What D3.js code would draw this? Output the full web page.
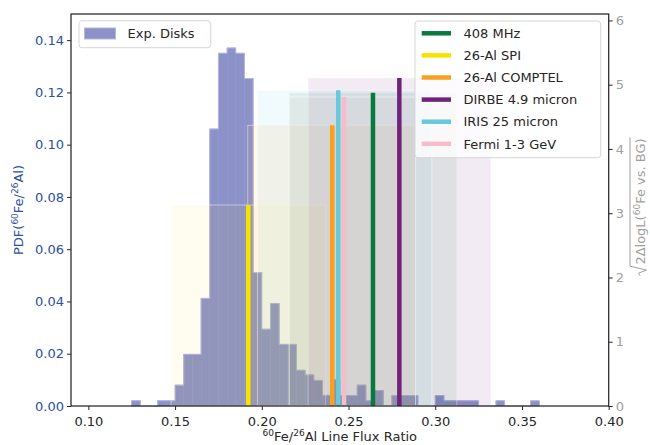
<!DOCTYPE html>
<html>
<head>
<meta charset="utf-8">
<script src="https://cdn.jsdelivr.net/npm/d3@7"></script>
<style>
  html, body { margin: 0; padding: 0; background: #fff; }
  svg { display: block; font-family: "DejaVu Sans", sans-serif; }
</style>
</head>
<body>
<svg id="chart" width="650" height="445"></svg>
<script>
// ---------------- DATA ----------------
const binLeft = [0.125,0.130,0.135,0.140,0.145,0.150,0.155,0.160,0.165,0.170,0.175,0.180,0.185,0.190,0.195,0.200,0.205,0.210,0.215,0.220,0.225,0.230,0.235,0.240,0.245,0.250,0.255,0.260,0.265,0.270,0.275,0.280,0.285,0.290,0.295,0.300,0.305,0.310,0.315,0.320,0.325,0.330,0.335,0.340,0.345,0.350,0.355];
const binPdf  = [0.002,0,0,0.002,0.002,0.008,0.0198,0.0198,0.0412,0.106,0.135,0.137,0.135,0.1253,0.051,0.0294,0.0392,0.0236,0.0236,0.0137,0.0119,0.0098,0.0041,0.0100,0.004,0.004,0.008,0.002,0.0059,0,0.004,0.004,0.004,0,0,0.004,0.002,0.002,0.002,0.002,0,0,0.002,0,0,0,0.002];
const binWidth = 0.005;

const tracerNames = ["408 MHz","26-Al SPI","26-Al COMPTEL","DIRBE 4.9 micron","IRIS 25 micron","Fermi 1-3 GeV"];
const ratioBest   = [0.2641, 0.1922, 0.2406, 0.2793, 0.2441, 0.2474];
const ratioLow    = [0.2158, 0.1477, 0.1919, 0.2267, 0.1975, 0.2158];
const ratioHigh   = [0.3124, 0.2368, 0.2887, 0.3321, 0.2980, 0.2887];
const significance= [4.875, 3.128, 4.368, 5.104, 4.913, 4.808];

const xTicks = [0.10,0.15,0.20,0.25,0.30,0.35,0.40];
const yLeftTicks = [0,0.02,0.04,0.06,0.08,0.10,0.12,0.14];
const yRightTicks = [0,1,2,3,4,5,6];

// ---------------- STYLE ----------------
const tracerColors = ["#087a3d","#f6e400","#f7a11f","#6f2479","#67c9db","#f6bccb"];
const histColor = "#8c91c8";
const leftColor = "#2c4fa3";
const rightColor = "#a0a0a0";
const textColor = "#262626";

const svg = d3.select("#chart");
const L = 71, R = 608.7, T = 14, B = 406;

const x = d3.scaleLinear().domain([0.09, 0.40]).range([L, R]);
const yL = d3.scaleLinear().domain([0, 0.15]).range([B, T]);
const yR = d3.scaleLinear().domain([0, 6.1]).range([B, T]);

const plot = svg.append("g");

// histogram (step-filled)
const hist = binLeft.map((b,i)=>({x0:b, x1:b+binWidth, v:binPdf[i]})).filter(d=>d.v>0);
plot.selectAll("rect.hist").data(hist).join("rect")
  .attr("class","hist")
  .attr("x", d=>x(d.x0)).attr("width", d=>x(d.x1)-x(d.x0))
  .attr("y", d=>yL(d.v)).attr("height", d=>yL(0)-yL(d.v))
  .attr("fill", histColor).attr("stroke", histColor).attr("stroke-width", 0.5);
// light outline of the step histogram
const stepPts = [];
binLeft.forEach((b,i)=>{ stepPts.push([x(b), yL(binPdf[i])]); stepPts.push([x(b+binWidth), yL(binPdf[i])]); });
plot.append("path")
  .attr("d", d3.line()(stepPts))
  .attr("fill","none").attr("stroke","#b4b7de").attr("stroke-width",1);

// shaded ranges
const idx = d3.range(tracerNames.length);
plot.selectAll("rect.band").data(idx).join("rect")
  .attr("class","band")
  .attr("x", i=>x(ratioLow[i])).attr("width", i=>x(ratioHigh[i])-x(ratioLow[i]))
  .attr("y", i=>yR(significance[i])).attr("height", i=>yR(0)-yR(significance[i]))
  .attr("fill", i=>tracerColors[i]).attr("fill-opacity", i=> i===1 ? 0.06 : 0.09)
  .attr("stroke", "#ffffff").attr("stroke-opacity", 0.45).attr("stroke-width", 1);

// vertical lines
plot.selectAll("line.best").data(idx).join("line")
  .attr("class","best")
  .attr("x1", i=>x(ratioBest[i])).attr("x2", i=>x(ratioBest[i]))
  .attr("y1", yR(0)).attr("y2", i=>yR(significance[i]))
  .attr("stroke", i=>tracerColors[i]).attr("stroke-width", 4.5);

// axes
const xAxis = d3.axisBottom(x).tickValues(xTicks).tickFormat(d3.format(".2f")).tickSize(4).tickPadding(7);
const gx = svg.append("g").attr("transform", `translate(0,${B})`).call(xAxis);
gx.select(".domain").remove();
gx.selectAll("text").attr("fill", textColor).style("font-size","13px").style("font-family","DejaVu Sans");
gx.selectAll("line").attr("stroke", textColor);

const yAxisL = d3.axisLeft(yL).tickValues(yLeftTicks).tickFormat(d3.format(".2f")).tickSize(4).tickPadding(3);
const gyl = svg.append("g").attr("transform", `translate(${L},0)`).call(yAxisL);
gyl.select(".domain").remove();
gyl.selectAll("text").attr("fill", leftColor).style("font-size","13px").style("font-family","DejaVu Sans");
gyl.selectAll("line").attr("stroke", textColor);

const yAxisR = d3.axisRight(yR).tickValues(yRightTicks).tickFormat(d3.format("d")).tickSize(4).tickPadding(3);
const gyr = svg.append("g").attr("transform", `translate(${R},0)`).call(yAxisR);
gyr.select(".domain").remove();
gyr.selectAll("text").attr("fill", rightColor).style("font-size","13px").style("font-family","DejaVu Sans");
gyr.selectAll("line").attr("stroke", textColor);

// frame
svg.append("rect").attr("x", L).attr("y", T).attr("width", R-L).attr("height", B-T)
  .attr("fill","none").attr("stroke", textColor).attr("stroke-width", 1.25);

// x label
const xl = svg.append("text").attr("x", (L+R)/2).attr("y", 441).attr("text-anchor","middle")
  .attr("fill", textColor).style("font-size","13px");
xl.append("tspan").text("60").style("font-size","9px").attr("dy","-5");
xl.append("tspan").text("Fe/").attr("dy","5");
xl.append("tspan").text("26").style("font-size","9px").attr("dy","-5");
xl.append("tspan").text("Al Line Flux Ratio").attr("dy","5");

// left y label
const yl = svg.append("text").attr("transform", `translate(23,210) rotate(-90)`).attr("text-anchor","middle")
  .attr("fill", leftColor).style("font-size","13px");
yl.append("tspan").text("PDF(");
yl.append("tspan").text("60").style("font-size","9px").attr("dy","-5");
yl.append("tspan").text("Fe/").attr("dy","5");
yl.append("tspan").text("26").style("font-size","9px").attr("dy","-5");
yl.append("tspan").text("Al)").attr("dy","5");

// right y label with radical
const rg = svg.append("g").attr("transform", `translate(645,207) rotate(-90)`);
const rt = rg.append("text").attr("x", 0).attr("y", 0).attr("fill", rightColor).style("font-size","13px");
rt.append("tspan").text("2ΔlogL(");
rt.append("tspan").text("60").style("font-size","9px").attr("dy","-5");
rt.append("tspan").text("Fe vs. BG)").attr("dy","5");
const rw = rt.node().getComputedTextLength();
const radW = 11;
const total = rw + radW;
rt.attr("x", -total/2 + radW);
const x0 = -total/2;
rg.append("path")
  .attr("d", `M${x0},-5 L${x0+2.5},-6.5 L${x0+5.5},1.5 L${x0+9.5},-15 L${-total/2+radW+rw+1},-15`)
  .attr("fill","none").attr("stroke", rightColor).attr("stroke-width", 1);

// legends
function legendBox(x0, y0, w, h) {
  svg.append("rect").attr("x", x0).attr("y", y0).attr("width", w).attr("height", h)
    .attr("rx", 3).attr("fill", "#fff").attr("fill-opacity", 0.8)
    .attr("stroke", "#d6d6d6").attr("stroke-width", 1);
}
legendBox(79, 20.7, 131.7, 27);
svg.append("rect").attr("x", 84.5).attr("y", 28).attr("width", 31).attr("height", 11)
  .attr("fill", histColor).attr("stroke", "#b4b7de").attr("stroke-width", 1);
svg.append("text").attr("x", 127.5).attr("y", 38).attr("fill", textColor).style("font-size","13px").text("Exp. Disks");

legendBox(415, 21, 185.7, 136.7);
const lg = svg.append("g").selectAll("g").data(idx).join("g")
  .attr("transform", i=>`translate(0,${33.3 + i*22.1})`);
lg.append("line").attr("x1", 421.7).attr("x2", 451).attr("y1", 0).attr("y2", 0)
  .attr("stroke", i=>tracerColors[i]).attr("stroke-width", 4.5);
lg.append("text").attr("x", 463.5).attr("y", 4.7).attr("fill", textColor).style("font-size","13px")
  .text(i=>tracerNames[i]);
</script>
</body>
</html>
